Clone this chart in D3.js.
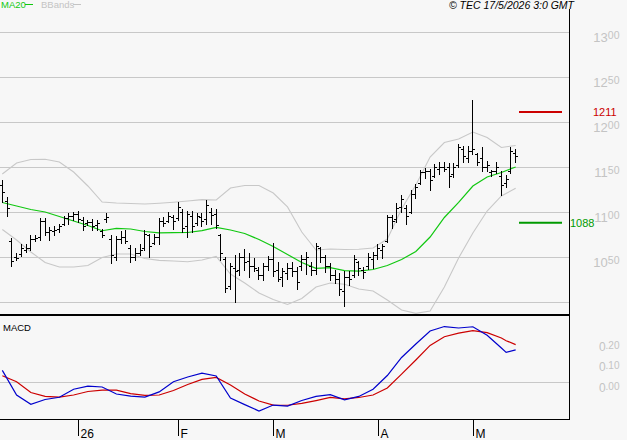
<!DOCTYPE html>
<html><head><meta charset="utf-8">
<script src="https://cdn.jsdelivr.net/npm/d3@7"></script>
<style>
html,body{margin:0;padding:0;background:#f7f7f7;}
svg{display:block;}
text{font-family:"Liberation Sans",Arial,sans-serif;}
</style></head><body>
<svg id="chart" width="627" height="440"></svg>
<script>
// ---- DATA ----
const openP = [1130,1112,1068,1050,1053,1058,1060,1070,1072,1090,
 1078,1079,1081,1087,1093,1096,1098,1091,1088,1089,
 1086,1079,1092,1070,1050,1070,1072,1060,1050,1055,
 1060,1074,1066,1072,1090,1090,1094,1093,1100,1085,
 1096,1088,1094,1092,1100,1098,1074,1048,1018,1038,
 1036,1050,1046,1040,1036,1030,1040,1048,1036,1028,
 1032,1038,1034,1040,1048,1040,1036,1060,1050,1040,
 1030,1026,1012,1028,1030,1045,1036,1040,1048,1052,
 1058,1068,1094,1092,1106,1104,1100,1120,1132,1144,
 1146,1140,1148,1150,1150,1142,1152,1170,1160,1168,
 1164,1160,1150,1144,1146,1140,1132,1145,1166];
const highP = [1136,1117,1071,1054,1064,1064,1074,1075,1093,1093,
 1083,1084,1087,1096,1099,1100,1101,1094,1091,1092,
 1091,1081,1099,1074,1073,1079,1080,1063,1060,1064,
 1080,1076,1076,1093,1095,1100,1097,1111,1103,1101,
 1101,1099,1099,1113,1104,1103,1076,1050,1043,1052,
 1054,1059,1054,1049,1039,1043,1051,1066,1044,1038,
 1043,1045,1039,1052,1056,1044,1066,1061,1052,1043,
 1036,1032,1035,1035,1052,1046,1039,1055,1056,1065,
 1065,1097,1097,1110,1119,1108,1125,1131,1147,1149,
 1148,1153,1155,1156,1154,1154,1176,1173,1173,1224,
 1166,1172,1157,1147,1155,1146,1141,1172,1170];
const lowP = [1111,1096,1040,1047,1051,1056,1058,1068,1069,1074,
 1069,1074,1078,1086,1087,1091,1089,1080,1086,1080,
 1080,1072,1089,1043,1047,1066,1066,1045,1047,1052,
 1058,1050,1065,1065,1084,1089,1081,1091,1078,1072,
 1078,1086,1084,1087,1087,1082,1047,1011,1014,1000,
 1030,1036,1028,1034,1026,1024,1036,1029,1023,1018,
 1026,1029,1015,1036,1031,1030,1031,1045,1033,1024,
 1021,1008,996,1019,1028,1030,1027,1037,1038,1048,
 1049,1067,1082,1089,1100,1087,1099,1116,1131,1138,
 1125,1139,1142,1145,1128,1139,1150,1156,1156,1164,
 1152,1145,1145,1140,1143,1119,1128,1143,1156];
const closeP = [1122,1104,1046,1049,1060,1060,1070,1071,1090,1078,
 1080,1080,1084,1093,1096,1098,1092,1085,1089,1084,
 1088,1074,1095,1052,1070,1072,1068,1050,1055,1058,
 1076,1062,1072,1090,1088,1096,1090,1106,1082,1098,
 1084,1096,1090,1108,1097,1086,1055,1016,1040,1035,
 1050,1044,1040,1038,1030,1040,1048,1035,1026,1034,
 1038,1035,1022,1048,1050,1036,1062,1050,1040,1030,
 1026,1015,1028,1026,1048,1038,1033,1050,1052,1060,
 1062,1094,1090,1105,1114,1096,1120,1128,1144,1145,
 1136,1150,1150,1148,1140,1150,1172,1162,1168,1170,
 1156,1150,1152,1145,1150,1130,1137,1168,1162];

// overlay samples (bar index)
const ovIdx = [0,3,6,9,12,15,18,21,24,27,30,33,36,39,42,45,48,51,54,57,60,63,66,69,72,75,78,81,84,87,90,93,96,99,102,105,108];
const ma20 = [1110.6,1106.7,1102.8,1100,1095,1090,1085,1079.2,1081.9,1081.1,1078.3,1076.7,1077,1077.2,1079.4,1082.8,1080,1076.1,1069.4,1061.7,1052.8,1043.9,1037.4,1038.1,1034.8,1034.4,1036.1,1040.6,1047.2,1056.1,1072.2,1093.9,1110.6,1128.9,1138.9,1143.9,1150];
const bbUpper = [1142.2,1154.4,1158.3,1158.6,1155.6,1144.4,1128.9,1111.1,1110,1109.4,1108.9,1109.7,1110.8,1112.2,1113.7,1113.3,1126.7,1129.4,1129.4,1121.1,1105.6,1077.8,1057.8,1058.9,1058.3,1058.6,1060,1070,1103.3,1130,1161.1,1177.2,1181.1,1188.9,1182.8,1171.7,1173.9];
const bbLower = [1080.6,1068.9,1055.6,1043.9,1038.9,1038.9,1040.6,1049.4,1053.3,1053.3,1048.3,1046.3,1045.6,1044.8,1046.7,1050.6,1031.1,1021.1,1010,1002.8,997.2,1003.9,1016.7,1021.1,1019.7,1014.4,1012.2,1002.2,991.1,987.4,990,1016.7,1048.9,1076.7,1101.1,1117.8,1126.3];

const macdIdx = [0,3,6,9,12,15,18,21,24,27,30,33,36,39,42,45,48,51,54,57,60,63,66,69,72,75,78,81,84,87,90,93,96,99,102,105,106,108];
const macdLine = [0.058,-0.062,-0.107,-0.084,-0.073,-0.034,-0.019,-0.023,-0.057,-0.067,-0.072,-0.047,0.003,0.026,0.045,0.031,-0.077,-0.109,-0.140,-0.111,-0.116,-0.089,-0.069,-0.060,-0.086,-0.069,-0.034,0.033,0.121,0.187,0.250,0.272,0.265,0.271,0.229,0.167,0.146,0.158];
const signalLine = [0.032,0.003,-0.050,-0.069,-0.072,-0.062,-0.045,-0.038,-0.038,-0.055,-0.064,-0.062,-0.040,-0.011,0.014,0.024,-0.013,-0.057,-0.091,-0.111,-0.112,-0.103,-0.089,-0.074,-0.081,-0.074,-0.062,-0.028,0.040,0.109,0.180,0.222,0.240,0.252,0.242,0.216,0.203,0.184];

const priceTicks = [1000,1050,1100,1150,1200,1250,1300];
const priceLabelTicks = [1050,1100,1150,1200,1250,1300];
const macdTicks = [0.00,0.10,0.20];
const monthTickIdx = [16,37,57,79,99];
const monthTickLabels = ["26","F","M","A","M"];
const resistance = 1211;
const support = 1088;
const copyright = "\u00A9 TEC 17/5/2026 3:0 GMT";

// ---- LAYOUT ----
const svg = d3.select("#chart");
const plotR = 569, mainTop = 9, mainBot = 315, macdBot = 419;

const x = d3.scaleLinear().domain([0, 108]).range([2.33, 515.65]);
const y = d3.scaleLinear().domain([1000, 1300]).range([302, 32]);
const ym = d3.scaleLinear().domain([0, 0.2]).range([382.3, 341.3]);

svg.append("rect").attr("width",627).attr("height",440).attr("fill","#f7f7f7");

const defs = svg.append("defs");
defs.append("clipPath").attr("id","mainClip").append("rect")
  .attr("x",0).attr("y",mainTop).attr("width",plotR).attr("height",mainBot-1-mainTop);
defs.append("clipPath").attr("id","macdClip").append("rect")
  .attr("x",0).attr("y",mainBot+1).attr("width",plotR).attr("height",macdBot-mainBot-1);

// gridlines
const grid = svg.append("g").attr("shape-rendering","crispEdges");
grid.selectAll("line.pg").data(priceTicks).join("line")
  .attr("x1",0).attr("x2",plotR)
  .attr("y1",d=>Math.round(y(d))+0.5).attr("y2",d=>Math.round(y(d))+0.5)
  .attr("stroke","#c8c8c8").attr("stroke-width",1);
grid.append("line").attr("x1",0).attr("x2",plotR)
  .attr("y1",Math.round(ym(0))+0.5).attr("y2",Math.round(ym(0))+0.5)
  .attr("stroke","#c8c8c8");

// price labels
const pl = svg.append("g").attr("fill","#c4c4c4");
priceLabelTicks.forEach(v=>{
  const s = String(v);
  const t = pl.append("text").attr("x",619.5).attr("y",y(v)+9.7).attr("text-anchor","end");
  t.append("tspan").attr("font-size",13).text(s.slice(0,2));
  t.append("tspan").attr("font-size",10.5).attr("dy",-2.6).text(s.slice(2));
});
// macd labels
macdTicks.forEach(v=>{
  const s = d3.format(".2f")(v);
  const t = pl.append("text").attr("x",619.5).attr("y",ym(v)+9.4).attr("text-anchor","end");
  t.append("tspan").attr("font-size",12).text(s.slice(0,1));
  t.append("tspan").attr("font-size",10).attr("dy",-2.2).text(s.slice(1));
});

// main overlays
const main = svg.append("g").attr("clip-path","url(#mainClip)");
const ov = ovIdx.map((d,i)=>({i:d, ma:ma20[i], up:bbUpper[i], lo:bbLower[i]}));
const lineOf = key => d3.line().x(d=>x(d.i)).y(d=>y(d[key]));
main.append("path").datum(ov).attr("d",lineOf("up")).attr("fill","none").attr("stroke","#c8c8c8").attr("stroke-width",1.1);
main.append("path").datum(ov).attr("d",lineOf("lo")).attr("fill","none").attr("stroke","#c8c8c8").attr("stroke-width",1.1);
main.append("path").datum(ov).attr("d",lineOf("ma")).attr("fill","none").attr("stroke","#11c811").attr("stroke-width",1.2);

// OHLC bars
const bars = openP.map((o,i)=>({i, o, h:highP[i], l:lowP[i], c:closeP[i]}));
const bg = main.append("g").attr("fill","#000").attr("shape-rendering","crispEdges");
bars.forEach(d=>{
  const px = Math.floor(x(d.i));
  const yh = Math.round(y(d.h)), yl = Math.round(y(d.l));
  bg.append("rect").attr("x",px).attr("y",yh).attr("width",1).attr("height",Math.max(1,yl-yh+1));
  bg.append("rect").attr("x",px-2).attr("y",Math.round(y(d.o))).attr("width",2).attr("height",1);
  bg.append("rect").attr("x",px+1).attr("y",Math.round(y(d.c))).attr("width",2).attr("height",1);
});

// reference levels
svg.append("line").attr("x1",519).attr("x2",562).attr("y1",y(resistance)).attr("y2",y(resistance))
  .attr("stroke","#cc0000").attr("stroke-width",2);
svg.append("text").attr("x",593).attr("y",y(resistance)+4).attr("font-size",11).attr("fill","#cc0000").text(resistance);
svg.append("line").attr("x1",519).attr("x2",562).attr("y1",y(support)).attr("y2",y(support))
  .attr("stroke","#009a00").attr("stroke-width",2);
svg.append("text").attr("x",570).attr("y",y(support)+4.5).attr("font-size",11).attr("fill","#009a00").text(support);

// MACD lines
const mg = svg.append("g").attr("clip-path","url(#macdClip)");
const md = macdIdx.map((d,i)=>({i:d, m:macdLine[i], s:signalLine[i]}));
mg.append("path").datum(md).attr("d",d3.line().x(d=>x(d.i)).y(d=>ym(d.s)))
  .attr("fill","none").attr("stroke","#cc0000").attr("stroke-width",1.2);
mg.append("path").datum(md).attr("d",d3.line().x(d=>x(d.i)).y(d=>ym(d.m)))
  .attr("fill","none").attr("stroke","#0000cc").attr("stroke-width",1.2);

// frame
const fr = svg.append("g").attr("shape-rendering","crispEdges");
fr.append("rect").attr("x",0).attr("y",mainBot-1).attr("width",plotR+1).attr("height",2).attr("fill","#000");
fr.append("line").attr("x1",plotR+0.5).attr("x2",plotR+0.5).attr("y1",mainTop).attr("y2",macdBot+1).attr("stroke","#000");
fr.append("line").attr("x1",0).attr("x2",plotR+1).attr("y1",macdBot+0.5).attr("y2",macdBot+0.5).attr("stroke","#000");

// month ticks
const tk = svg.append("g");
monthTickIdx.forEach((d,k)=>{
  const px = Math.round(x(d))+0.5;
  tk.append("line").attr("x1",px).attr("x2",px).attr("y1",macdBot).attr("y2",436)
    .attr("stroke","#000").attr("shape-rendering","crispEdges");
  tk.append("text").attr("x",px+2).attr("y",437.5).attr("font-size",12).attr("fill","#000").text(monthTickLabels[k]);
});

// header
svg.append("text").attr("x",1).attr("y",8).attr("font-size",9.5).attr("fill","#11c811").text("MA20");
svg.append("line").attr("x1",25).attr("x2",33).attr("y1",4.5).attr("y2",4.5).attr("stroke","#11c811");
svg.append("text").attr("x",41).attr("y",8).attr("font-size",9.5).attr("fill","#c4c4c4").text("BBands");
svg.append("line").attr("x1",73).attr("x2",81).attr("y1",4.5).attr("y2",4.5).attr("stroke","#c4c4c4");
svg.append("text").attr("x",574).attr("y",8.5).attr("font-size",10.5).attr("font-style","italic")
  .attr("text-anchor","end").attr("fill","#000").text(copyright);
svg.append("text").attr("x",3).attr("y",330.5).attr("font-size",9.5).attr("fill","#000").text("MACD");
</script>
</body></html>
